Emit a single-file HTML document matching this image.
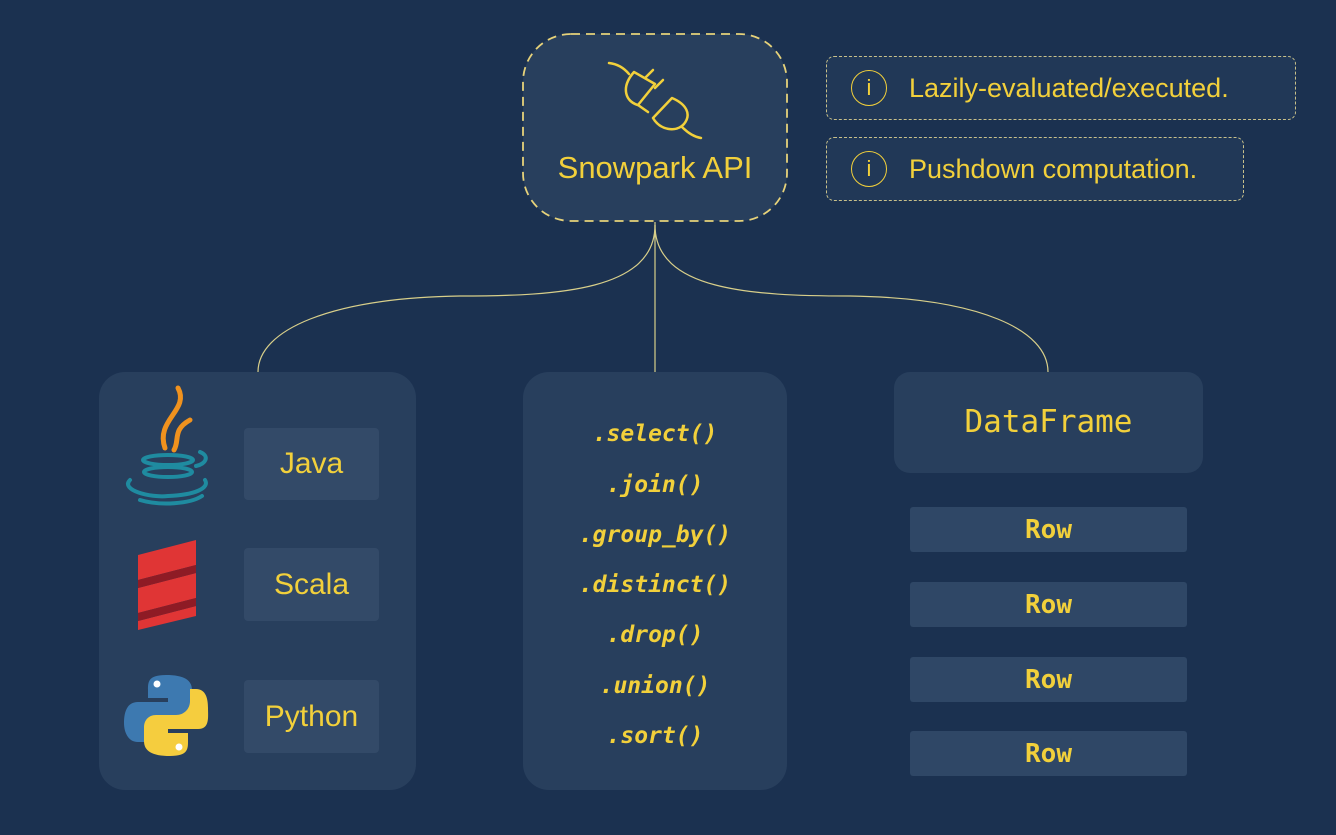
<!DOCTYPE html>
<html><head><meta charset="utf-8"><style>
html,body{margin:0;padding:0}
body{width:1336px;height:835px;background:#1b3150;position:relative;overflow:hidden;font-family:"Liberation Sans","DejaVu Sans",sans-serif;color:#f2d03b}
.abs{position:absolute}
.panel{position:absolute;background:#283f5d;border-radius:26px}
.lbl{position:absolute;background:#334a68;border-radius:4px;display:flex;align-items:center;justify-content:center;font-size:30px;color:#f2d03b}
.note{position:absolute;border:1.5px dashed #c8c08a;border-radius:8px;background:#213857;display:flex;align-items:center;font-size:27px}
.note .i{width:34px;height:34px;border:1.5px solid #f2d03b;border-radius:50%;margin:0 22px 0 24px;display:flex;align-items:center;justify-content:center;font-size:22px}
.code{position:absolute;left:523px;width:264px;text-align:center;font-family:"DejaVu Sans Mono","Liberation Mono",monospace;font-style:italic;font-weight:bold;font-size:23px}
.row{position:absolute;left:910px;width:277px;height:45px;background:#2f4766;border-radius:3px;display:flex;align-items:center;justify-content:center;font-family:"DejaVu Sans Mono",monospace;font-weight:bold;font-size:26px}
</style></head><body>
<svg class="abs" style="left:0;top:0" width="1336" height="835">
<path d="M655 225 C655 290 560 296 460 296 C330 298 258 330 258 372" fill="none" stroke="#d8cf8a" stroke-width="1.2"/>
<path d="M655 225 C655 290 750 296 850 296 C980 298 1048 330 1048 372" fill="none" stroke="#d8cf8a" stroke-width="1.2"/>
<line x1="655" y1="222" x2="655" y2="372" stroke="#d8cf8a" stroke-width="1.2"/>
<rect x="523" y="34" width="264" height="187" rx="48" fill="#283f5d" stroke="#e6d27a" stroke-width="1.8" stroke-dasharray="9 6"/>
<g fill="none" stroke="#f2d03b" stroke-width="2.5" stroke-linecap="round" stroke-linejoin="round">
<path d="M609 63 C618 64 624 68 629 74"/>
<path d="M634 72 L655 84 L638 105 C626 102 620 88 634 72Z"/>
<path d="M645 78 L653 70 M655 88 L663 80 M638 105 L648 112"/>
<path d="M672 98 L653 118 C660 130 676 133 684 124 C692 114 686 104 672 98Z"/>
<path d="M682 127 C688 133 694 137 701 138"/>
</g>
</svg>
<div class="abs" style="left:523px;top:150px;width:264px;text-align:center;font-size:31px">Snowpark API</div>
<div class="note" style="left:826px;top:56px;width:468px;height:62px"><div class="i">i</div>Lazily-evaluated/executed.</div>
<div class="note" style="left:826px;top:137px;width:416px;height:62px"><div class="i">i</div>Pushdown computation.</div>

<div class="panel" style="left:99px;top:372px;width:317px;height:418px"></div>
<div class="panel" style="left:523px;top:372px;width:264px;height:418px"></div>
<div class="panel" style="left:894px;top:372px;width:309px;height:101px;border-radius:16px"></div>

<div class="lbl" style="left:244px;top:428px;width:135px;height:72px">Java</div>
<div class="lbl" style="left:244px;top:548px;width:135px;height:73px">Scala</div>
<div class="lbl" style="left:244px;top:680px;width:135px;height:73px">Python</div>

<svg class="abs" style="left:110px;top:380px" width="120" height="390">
<g fill="none" stroke="#f0921e" stroke-width="5" stroke-linecap="round">
<path d="M68 8 C80 30 45 40 55 68"/><path d="M80 40 C62 50 70 60 64 70"/></g>
<g fill="none" stroke="#1f8ba0" stroke-width="4" stroke-linecap="round">
<ellipse cx="58" cy="80" rx="25" ry="5"/><ellipse cx="58" cy="92" rx="24" ry="5"/>
<path d="M20 100 C10 110 40 118 58 116 C85 115 100 108 95 100"/>
<path d="M30 120 C50 126 80 124 92 116"/><path d="M90 72 C100 76 96 84 86 86"/></g>
<g fill="#e03535">
<path d="M28 175 L86 160 L86 185 L28 200Z"/><path d="M28 208 L86 193 L86 218 L28 233Z"/><path d="M28 241 L86 226 L86 236 L28 250Z"/></g>
<g fill="#8e1b25"><path d="M28 200 L86 185 L86 193 L28 208Z"/><path d="M28 233 L86 218 L86 226 L28 241Z"/></g>
<path d="M56 295 C38 295 38 302 38 310 L38 318 L58 318 L58 322 L28 322 C16 322 14 334 14 343 C14 352 18 362 28 362 L36 362 L36 350 C36 342 42 336 50 336 L70 336 C78 336 82 330 82 324 L82 310 C82 300 74 295 56 295Z" fill="#3d79b0"/>
<path d="M60 376 C78 376 78 369 78 361 L78 353 L58 353 L58 349 L88 349 C100 349 98 337 98 328 C98 319 96 309 86 309 L80 309 L80 321 C80 329 74 335 66 335 L46 335 C38 335 34 341 34 347 L34 361 C34 371 42 376 60 376Z" fill="#f5cd3e"/>
<circle cx="47" cy="304" r="3.5" fill="#fff"/><circle cx="69" cy="367" r="3.5" fill="#fff"/>
</svg>

<div class="code" style="top:421px">.select()</div>
<div class="code" style="top:472px">.join()</div>
<div class="code" style="top:522px">.group_by()</div>
<div class="code" style="top:572px">.distinct()</div>
<div class="code" style="top:622px">.drop()</div>
<div class="code" style="top:673px">.union()</div>
<div class="code" style="top:723px">.sort()</div>

<div class="abs" style="left:894px;top:404px;width:309px;text-align:center;font-family:'DejaVu Sans Mono',monospace;font-size:31px">DataFrame</div>
<div class="row" style="top:507px">Row</div>
<div class="row" style="top:582px">Row</div>
<div class="row" style="top:657px">Row</div>
<div class="row" style="top:731px">Row</div>
</body></html>
